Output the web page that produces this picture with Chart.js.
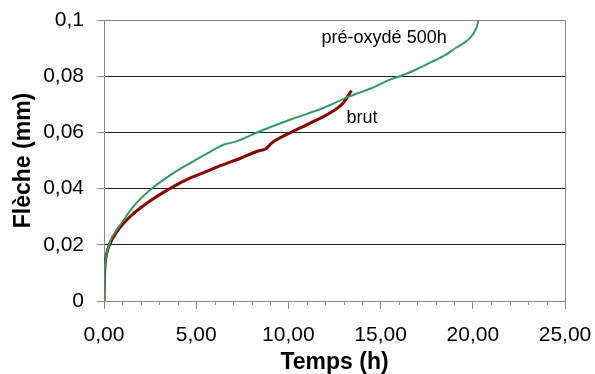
<!DOCTYPE html>
<html>
<head>
<meta charset="utf-8">
<script src="https://cdn.jsdelivr.net/npm/chart.js@4.4.1/dist/chart.umd.min.js"></script>
<style>
  html, body { margin: 0; padding: 0; background: #fff; }
  #wrap { width: 595px; height: 374px; }
</style>
</head>
<body>
<div id="wrap"><canvas id="c" width="595" height="374"></canvas></div>
<script>
// temps (h) / flèche (mm)
var oxydeTemps  = [0, 0.02, 0.06, 0.15, 0.33, 0.6, 0.96, 1.59, 2.5, 3.76, 4.66, 5.6, 6.47, 7.19, 8.46, 10.08, 11.89, 13.34, 14.5, 15.51, 16.05, 16.9, 17.68, 18.5, 19.13, 19.6, 19.94, 20.21, 20.31];
var oxydeFleche = [0, 0.008, 0.013, 0.017, 0.0212, 0.0245, 0.0278, 0.0336, 0.0395, 0.0455, 0.049, 0.0525, 0.0556, 0.0568, 0.0604, 0.0645, 0.0687, 0.0729, 0.0757, 0.0788, 0.080, 0.0823, 0.0848, 0.0875, 0.0903, 0.0922, 0.0943, 0.0975, 0.1002];

var brutTemps  = [0, 0.02, 0.06, 0.15, 0.33, 0.69, 1.41, 2.32, 3.76, 4.66, 5.6, 6.47, 7.4, 8.28, 8.82, 9.09, 10.08, 10.99, 12.25, 12.97, 13.42];
var brutFleche = [0, 0.008, 0.013, 0.017, 0.0205, 0.0246, 0.030, 0.0348, 0.0407, 0.0437, 0.0462, 0.0485, 0.0508, 0.0532, 0.0544, 0.0562, 0.0598, 0.0627, 0.0669, 0.0705, 0.0749];

var xTicks = [0, 5, 10, 15, 20, 25];
var yTicks = [0, 0.02, 0.04, 0.06, 0.08, 0.1];

function pts(xs, ys) {
  return xs.map(function (x, i) { return { x: x, y: ys[i] }; });
}

var fmtX = function (v) { return v.toFixed(2).replace('.', ','); };
var fmtY = function (v) {
  if (v === 0) return '0';
  return String(+v.toFixed(2)).replace('.', ',');
};

var FONT = '"Liberation Sans", Arial, sans-serif';

// minor ticks on the time axis, frame, and curve labels
var decor = {
  id: 'decor',
  afterDraw: function (chart) {
    var ctx = chart.ctx, xs = chart.scales.x, ys = chart.scales.y, a = chart.chartArea;
    ctx.save();
    ctx.strokeStyle = '#888';
    ctx.lineWidth = 1;
    ctx.beginPath();
    for (var t = 0; t <= 25; t++) {
      if (t % 5 === 0) continue;
      var px = Math.round(xs.getPixelForValue(t)) + 0.5;
      ctx.moveTo(px, a.bottom);
      ctx.lineTo(px, a.bottom + 4);
    }
    // top and right frame
    ctx.moveTo(a.left, Math.round(a.top) + 0.5);
    ctx.lineTo(Math.round(a.right) + 0.5, Math.round(a.top) + 0.5);
    ctx.lineTo(Math.round(a.right) + 0.5, a.bottom);
    ctx.stroke();

    ctx.fillStyle = '#000';
    ctx.font = '18px ' + FONT;
    ctx.textAlign = 'left';
    ctx.textBaseline = 'middle';
    ctx.fillText('pré-oxydé 500h', xs.getPixelForValue(11.8), ys.getPixelForValue(0.0935));
    ctx.fillText('brut', xs.getPixelForValue(13.15), ys.getPixelForValue(0.0652));
    ctx.restore();
  }
};

new Chart(document.getElementById('c'), {
  type: 'scatter',
  data: {
    datasets: [
      {
        label: 'pré-oxydé 500h',
        data: pts(oxydeTemps, oxydeFleche),
        showLine: true,
        borderColor: '#339966',
        borderWidth: 2,
        pointRadius: 0,
        cubicInterpolationMode: 'monotone'
      },
      {
        label: 'brut',
        data: pts(brutTemps, brutFleche),
        showLine: true,
        borderColor: '#8B0000',
        borderWidth: 3,
        pointRadius: 0,
        cubicInterpolationMode: 'monotone'
      }
    ]
  },
  options: {
    responsive: false,
    animation: false,
    layout: { padding: { left: 0, right: 30, top: 20, bottom: 0 } },
    plugins: {
      legend: { display: false },
      tooltip: { enabled: false }
    },
    scales: {
      x: {
        type: 'linear',
        min: 0,
        max: 25,
        afterBuildTicks: function (s) { s.ticks = xTicks.map(function (v) { return { value: v }; }); },
        afterFit: function (s) {
          s.height = 73;
          s.paddingLeft = 0;
          s.paddingRight = 0;
        },
        border: { color: '#888', width: 1 },
        grid: { drawOnChartArea: false, drawTicks: true, tickLength: 8, color: '#888' },
        ticks: {
          callback: fmtX,
          color: '#000',
          padding: 14,
          maxRotation: 0,
          font: { family: FONT, size: 21 }
        },
        title: {
          display: true,
          text: 'Temps (h)',
          color: '#000',
          padding: { top: 0, bottom: 0 },
          font: { family: FONT, size: 23, weight: 'bold', lineHeight: 1 }
        }
      },
      y: {
        type: 'linear',
        min: 0,
        max: 0.1,
        afterBuildTicks: function (s) { s.ticks = yTicks.map(function (v) { return { value: v }; }); },
        afterFit: function (s) {
          s.width = 104;
          s.paddingTop = 0;
          s.paddingBottom = 0;
        },
        border: { color: '#888', width: 1 },
        grid: {
          drawTicks: true,
          tickLength: 7,
          tickColor: '#888',
          color: function (c) {
            var v = c.tick ? c.tick.value : null;
            return (v === 0 || v === 0.1) ? '#888' : '#222';
          }
        },
        ticks: {
          callback: fmtY,
          color: '#000',
          padding: 13,
          font: { family: FONT, size: 21 }
        },
        title: {
          display: true,
          text: 'Flèche (mm)',
          color: '#000',
          padding: { top: 12, bottom: 0 },
          font: { family: FONT, size: 23, weight: 'bold', lineHeight: 1 }
        }
      }
    }
  },
  plugins: [decor]
});
</script>
</body>
</html>
